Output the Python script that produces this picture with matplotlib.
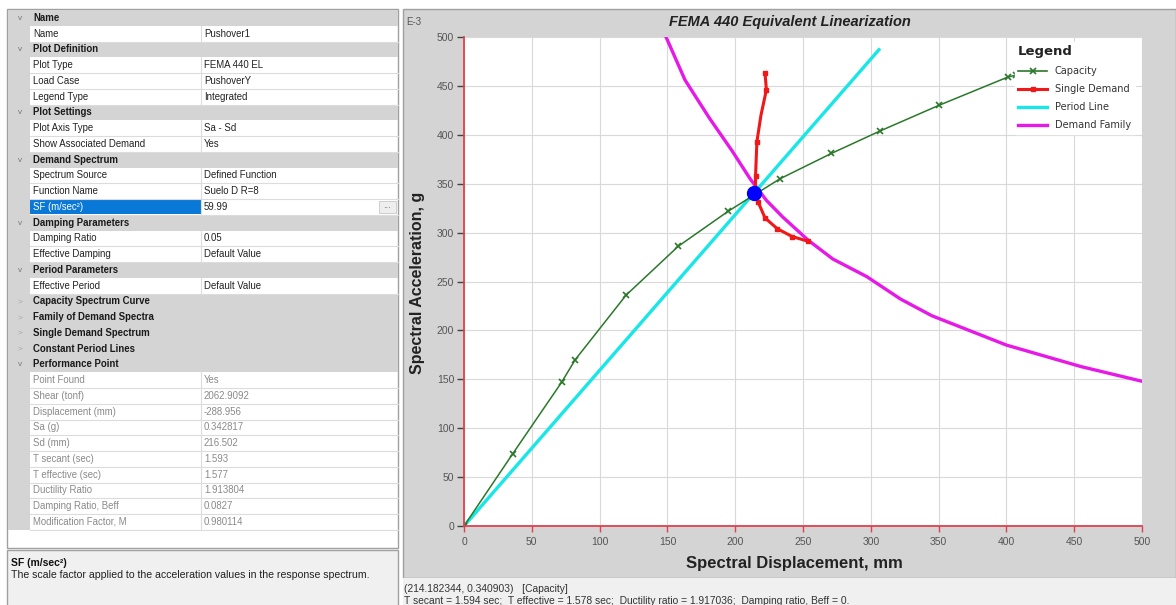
import matplotlib
matplotlib.use("Agg")
import matplotlib.pyplot as plt
from matplotlib.patches import Rectangle
from matplotlib.lines import Line2D

NARROW = ['Liberation Sans Narrow', 'Liberation Sans', 'DejaVu Sans']
SANS = ['Liberation Sans', 'DejaVu Sans']

# ---- property grid (left panel) ----
prop_names = ["Name", "Name", "Plot Definition", "Plot Type", "Load Case", "Legend Type",
              "Plot Settings", "Plot Axis Type", "Show Associated Demand",
              "Demand Spectrum", "Spectrum Source", "Function Name", "SF (m/sec²)",
              "Damping Parameters", "Damping Ratio", "Effective Damping",
              "Period Parameters", "Effective Period",
              "Capacity Spectrum Curve", "Family of Demand Spectra",
              "Single Demand Spectrum", "Constant Period Lines",
              "Performance Point", "Point Found", "Shear (tonf)", "Displacement (mm)",
              "Sa (g)", "Sd (mm)", "T secant (sec)", "T effective (sec)",
              "Ductility Ratio", "Damping Ratio, Beff", "Modification Factor, M"]
prop_values = ["", "Pushover1", "", "FEMA 440 EL", "PushoverY", "Integrated",
               "", "Sa - Sd", "Yes",
               "", "Defined Function", "Suelo D R=8", "59.99",
               "", "0.05", "Default Value",
               "", "Default Value",
               "", "", "", "",
               "", "Yes", "2062.9092", "-288.956",
               "0.342817", "216.502", "1.593", "1.577",
               "1.913804", "0.0827", "0.980114"]
# h = open header, c = collapsed header, r = editable row, s = selected row, o = read-only row
prop_kinds = ["h", "r", "h", "r", "r", "r", "h", "r", "r", "h", "r", "r", "s",
              "h", "r", "r", "h", "r", "c", "c", "c", "c", "h",
              "o", "o", "o", "o", "o", "o", "o", "o", "o", "o"]

desc_title = "SF (m/sec²)"
desc_text = "The scale factor applied to the acceleration values in the response spectrum."

# ---- chart data (Sd in mm, Sa in g x 1E-3) ----
cap_sd = [0, 36, 72, 82, 119.5, 158, 195, 233, 271, 307, 350, 401, 407]
cap_sa = [0, 74, 147, 170, 236, 286, 322, 355, 381, 404, 430, 459, 461]

single_sd = [222, 223, 219, 216, 215, 215, 217, 222, 231, 242, 254]
single_sa = [463, 446, 420, 393, 358, 341, 331, 315, 304, 296, 291]
single_marks = [0, 1, 3, 4, 6, 7, 8, 9, 10]

period_sd = [0, 306]
period_sa = [0, 487]

family_sd = [145, 149, 163, 181, 198, 211, 223, 235, 254, 272, 297, 322, 345, 400, 455, 500]
family_sa = [510, 500, 456, 417, 383, 355, 333, 316, 292, 273, 255, 232, 215, 185, 163, 148]

perf_sd, perf_sa = 214.18, 340.9

x_ticks = list(range(0, 501, 50))
y_ticks = list(range(0, 501, 50))

status1 = "(214.182344, 0.340903)   [Capacity]"
status2 = ("T secant = 1.594 sec;  T effective = 1.578 sec;  Ductility ratio = 1.917036;  "
           "Damping ratio, Beff = 0.")

W, H = 1176, 605
fig = plt.figure(figsize=(W / 100, H / 100), dpi=100)
fig.patch.set_facecolor('white')

# background layer in pixel coords
bg = fig.add_axes([0, 0, 1, 1])
bg.set_xlim(0, W)
bg.set_ylim(H, 0)
bg.axis('off')

# left panel
bg.add_patch(Rectangle((7, 9), 391, 539, fc='white', ec='#a0a0a0', lw=1))
row_h = 15.75
top = 10
gcol = '#d4d4d4'
for i, (name, val, kind) in enumerate(zip(prop_names, prop_values, prop_kinds)):
    y0 = top + i * row_h
    yc = y0 + row_h / 2
    if kind in ('h', 'c'):
        bg.add_patch(Rectangle((7.5, y0), 390, row_h, fc=gcol, ec='none'))
        bg.text(20, yc + 0.5, 'v' if kind == 'h' else '>', ha='center', va='center',
                fontsize=6, color='#777777' if kind == 'h' else '#aaaaaa', family=SANS)
        bg.text(33, yc, name, ha='left', va='center', fontsize=6.9, weight='bold',
                color='#1a1a1a', family=SANS)
        continue
    bg.add_patch(Rectangle((7.5, y0), 22, row_h, fc=gcol, ec='none'))
    bg.plot([29.5, 398], [y0 + row_h, y0 + row_h], color='#dcdcdc', lw=0.8)
    bg.plot([201, 201], [y0, y0 + row_h], color='#dcdcdc', lw=0.8)
    tc = '#8a8a8a' if kind == 'o' else '#222222'
    if kind == 's':
        bg.add_patch(Rectangle((30, y0 + 0.5), 171, row_h - 1, fc='#0a78d7', ec='none'))
        bg.add_patch(Rectangle((379, y0 + 1.5), 17, row_h - 3, fc='#eeeeee', ec='#c8c8c8', lw=0.6))
        bg.text(387.5, yc - 1, '...', ha='center', va='center', fontsize=6, color='#555555')
        tc_name = 'white'
    else:
        tc_name = tc
    bg.text(33, yc, name, ha='left', va='center', fontsize=6.9, color=tc_name, family=SANS)
    bg.text(204, yc, val, ha='left', va='center', fontsize=6.9, color=tc, family=SANS)

# description box
bg.add_patch(Rectangle((7, 550), 391, 56, fc='#f0f0f0', ec='#a0a0a0', lw=1))
bg.text(11, 563, desc_title, ha='left', va='center', fontsize=7.5, weight='bold',
        color='#111111', family=SANS)
bg.text(11, 575, desc_text, ha='left', va='center', fontsize=7.6, color='#222222', family=SANS)

# chart panel
bg.add_patch(Rectangle((402.5, 8.5), 773, 569, fc='#d4d4d4', ec='#a0a0a0', lw=1))
bg.add_patch(Rectangle((402.5, 578), 773, 27, fc='#f0f0f0', ec='none'))
bg.text(790, 22, "FEMA 440 Equivalent Linearization", ha='center', va='center',
        fontsize=10.5, weight='bold', style='italic', color='#222222', family=SANS)
bg.text(414, 22, "E-3", ha='center', va='center', fontsize=7, color='#555555', family=NARROW)
bg.text(404, 589, status1, ha='left', va='center', fontsize=7.4, color='#333333', family=NARROW)
bg.text(404, 601, status2, ha='left', va='center', fontsize=7.4, color='#333333', family=NARROW)

# plot area
ax = fig.add_axes([464 / W, 1 - 526 / H, 678 / W, 489 / H])
ax.set_zorder(3)
ax.set_facecolor('white')
ax.set_xlim(0, 500)
ax.set_ylim(0, 500)
ax.set_xticks(x_ticks)
ax.set_yticks(y_ticks)
ax.grid(True, color='#d9d9d9', lw=0.8)
ax.set_axisbelow(True)
for s in ('top', 'right'):
    ax.spines[s].set_visible(False)
for s in ('left', 'bottom'):
    ax.spines[s].set_color('#e0404f')
    ax.spines[s].set_linewidth(1.3)
ax.tick_params(axis='y', direction='out', length=5, width=1, color='#444444',
               labelcolor='#555555', labelsize=7.5, pad=2)
ax.tick_params(axis='x', direction='out', length=4, width=1, color='#e0404f',
               labelcolor='#555555', labelsize=7.5, pad=4)
for lab in ax.get_xticklabels() + ax.get_yticklabels():
    lab.set_family(NARROW)

ax.plot(family_sd, family_sa, color='#e619e6', lw=2.4, clip_on=True)
ax.plot(period_sd, period_sa, color='#19e6e6', lw=2.4)
ax.plot(cap_sd, cap_sa, color='#2a782a', lw=1.1, marker='x', ms=5, mew=1.2)
ax.plot(single_sd, single_sa, color='#f01818', lw=2.2, marker='s', ms=3.5,
        markevery=single_marks)
ax.plot([perf_sd], [perf_sa], 'o', color='#0000ff', ms=10, zorder=5)

ax.set_xlabel("Spectral Displacement, mm", fontsize=12, weight='bold',
              color='#222222', family=NARROW)
ax.xaxis.set_label_coords(0.488, -0.061)
ax.set_ylabel("Spectral Acceleration, g", fontsize=11.5, weight='bold',
              color='#222222', family=SANS)
ax.yaxis.set_label_coords(-0.058, 0.497)

handles = [
    Line2D([], [], color='#2a782a', lw=1.2, marker='x', ms=5, mew=1.2),
    Line2D([], [], color='#f01818', lw=2.2, marker='s', ms=3.5),
    Line2D([], [], color='#19e6e6', lw=2.4),
    Line2D([], [], color='#e619e6', lw=2.4),
]
leg = ax.legend(handles, ["Capacity", "Single Demand", "Period Line", "Demand Family"],
                title="Legend", loc='upper left', bbox_to_anchor=(0.805, 1.0),
                frameon=True, fancybox=False, edgecolor='white', facecolor='white',
                framealpha=1, fontsize=7, title_fontsize=9.5, handlelength=3.0,
                labelspacing=0.82, borderpad=0.35, alignment='left', markerfirst=True)
leg.get_title().set_fontweight('bold')
leg.get_title().set_color('#222222')
for t in leg.get_texts():
    t.set_color('#333333')

fig.savefig("out.png", dpi=100)
